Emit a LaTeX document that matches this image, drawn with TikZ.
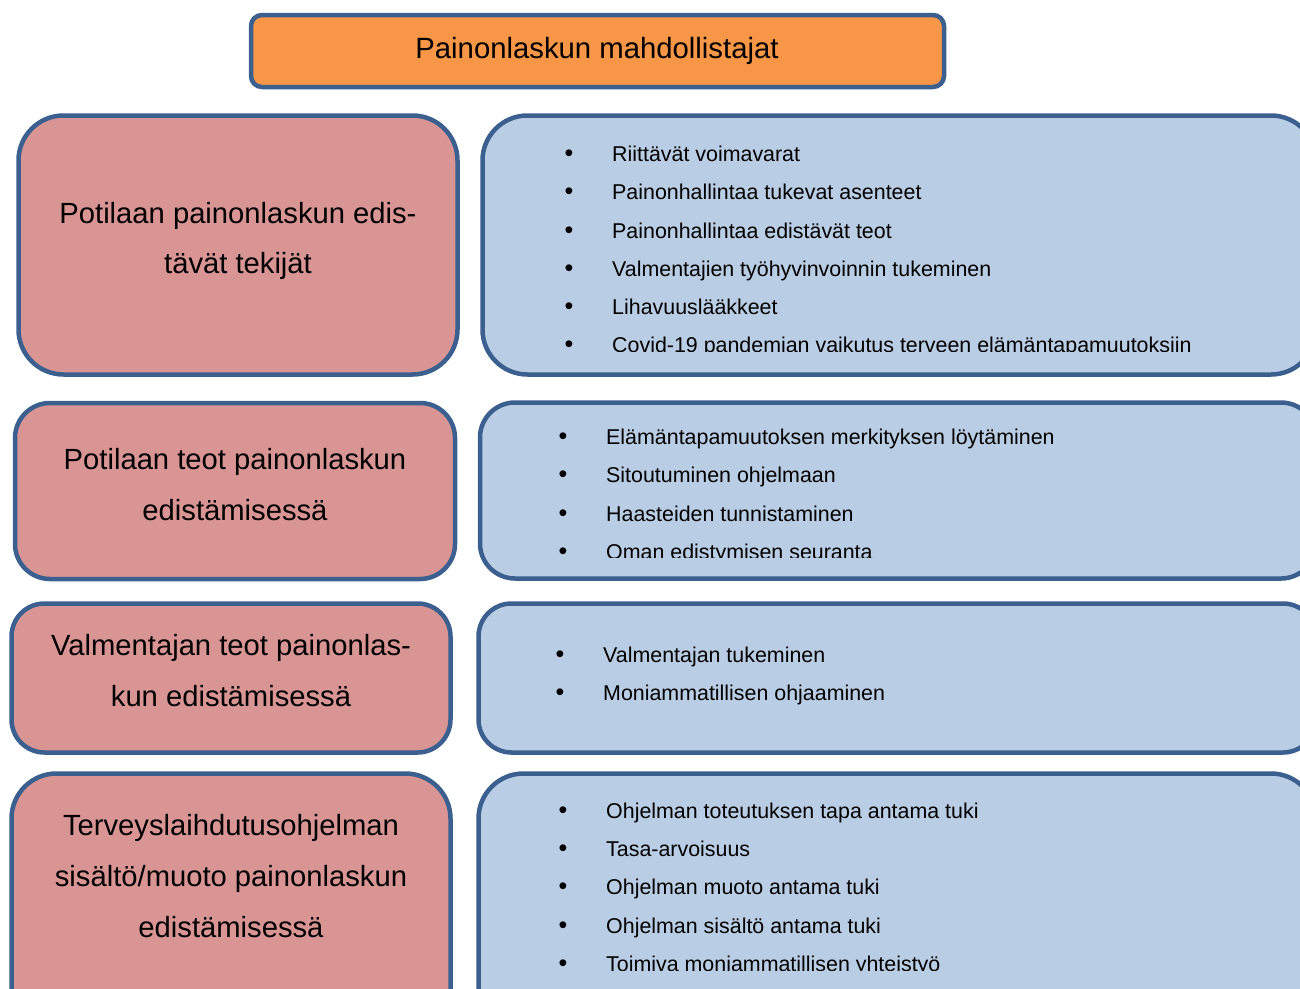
\documentclass[tikz,border=0pt]{standalone}
\usepackage{fontspec}
\setmainfont{Liberation Sans}
\definecolor{bordc}{HTML}{3B5F8E}
\definecolor{orangec}{HTML}{F79646}
\definecolor{pinkc}{HTML}{D99594}
\definecolor{bluec}{HTML}{B9CDE5}
\tikzset{
  boxline/.style={draw=bordc, line width=4.5pt},
  titlebox/.style={boxline, fill=orangec, rounded corners=11pt},
  leftbox/.style={boxline, fill=pinkc},
  rightbox/.style={boxline, fill=bluec},
  titletext/.style={anchor=base, inner sep=0pt, font=\fontsize{29.3}{32}\selectfont},
  lefttext/.style={anchor=base, inner sep=0pt, font=\fontsize{29.2}{34}\selectfont},
  bul/.style={anchor=base, inner sep=0pt, font=\fontsize{25}{26}\selectfont},
  itemtext/.style={anchor=base west, inner sep=0pt, font=\fontsize{21.4}{24}\selectfont},
}
\begin{document}
\begin{tikzpicture}[x=1pt,y=-1pt]
\useasboundingbox (0,0) rectangle (1300,988);
% title
\draw[titlebox] (251,15) rectangle (944,87);
\node[titletext] (title) at (597,58) {Painonlaskun mahdollistajat};
% row 1
\draw[leftbox, rounded corners=45pt] (18.5,115.5) rectangle (457.5,374.5);
\node[lefttext] (l1a) at (238,223) {Potilaan painonlaskun edis-};
\node[lefttext] (l1b) at (238,273.5) {tävät tekijät};
\draw[rightbox, rounded corners=45pt] (482.5,115.5) rectangle (1316,374.5);
\begin{scope}
\clip (470,100) rectangle (1300,351.5);
\node[bul] (b1a) at (569,161) {•}; \node[itemtext] (t1a) at (612,161) {Riittävät voimavarat};
\node[bul] (b1b) at (569,199) {•}; \node[itemtext] (t1b) at (612,199) {Painonhallintaa tukevat asenteet};
\node[bul] (b1c) at (569,238) {•}; \node[itemtext] (t1c) at (612,238) {Painonhallintaa edistävät teot};
\node[bul] (b1d) at (569,276) {•}; \node[itemtext] (t1d) at (612,276) {Valmentajien työhyvinvoinnin tukeminen};
\node[bul] (b1e) at (569,314) {•}; \node[itemtext] (t1e) at (612,314) {Lihavuuslääkkeet};
\node[itemtext] (t1f) at (612,352) {Covid-19 pandemian vaikutus terveen elämäntapamuutoksiin};
\end{scope}
\node[bul] (b1f) at (569,352) {•};
% row 2
\draw[leftbox, rounded corners=35pt] (15,403) rectangle (455,579);
\node[lefttext] (l2a) at (235,469) {Potilaan teot painonlaskun};
\node[lefttext] (l2b) at (235,520) {edistämisessä};
\draw[rightbox, rounded corners=35pt] (480,402.5) rectangle (1316,578.5);
\begin{scope}
\clip (470,390) rectangle (1300,557.5);
\node[bul] (b2a) at (563,444) {•}; \node[itemtext] (t2a) at (606,444) {Elämäntapamuutoksen merkityksen löytäminen};
\node[bul] (b2b) at (563,482) {•}; \node[itemtext] (t2b) at (606,482) {Sitoutuminen ohjelmaan};
\node[bul] (b2c) at (563,521) {•}; \node[itemtext] (t2c) at (606,521) {Haasteiden tunnistaminen};
\node[itemtext] (t2d) at (606,559) {Oman edistymisen seuranta};
\end{scope}
\node[bul] (b2d) at (563,559) {•};
% row 3
\draw[leftbox, rounded corners=33pt] (11.5,603.5) rectangle (450.5,752.5);
\node[lefttext] (l3a) at (231,655) {Valmentajan teot painonlas-};
\node[lefttext] (l3b) at (231,706) {kun edistämisessä};
\draw[rightbox, rounded corners=33pt] (478.5,603.5) rectangle (1316,752.5);
\node[bul] (b3a) at (560,662) {•}; \node[itemtext] (t3a) at (603,662) {Valmentajan tukeminen};
\node[bul] (b3b) at (560,700) {•}; \node[itemtext] (t3b) at (603,700) {Moniammatillisen ohjaaminen};
% row 4
\draw[leftbox, rounded corners=45pt] (11.5,773.5) rectangle (450.5,1040);
\node[lefttext] (l4a) at (231,835) {Terveyslaihdutusohjelman};
\node[lefttext] (l4b) at (231,886) {sisältö/muoto painonlaskun};
\node[lefttext] (l4c) at (231,937) {edistämisessä};
\draw[rightbox, rounded corners=45pt] (478.5,773.5) rectangle (1316,1040);
\begin{scope}
\clip (470,760) rectangle (1300,970.5);
\node[bul] (b4a) at (563,818) {•}; \node[itemtext] (t4a) at (606,818) {Ohjelman toteutuksen tapa antama tuki};
\node[bul] (b4b) at (563,856) {•}; \node[itemtext] (t4b) at (606,856) {Tasa-arvoisuus};
\node[bul] (b4c) at (563,894) {•}; \node[itemtext] (t4c) at (606,894) {Ohjelman muoto antama tuki};
\node[bul] (b4d) at (563,933) {•}; \node[itemtext] (t4d) at (606,933) {Ohjelman sisältö antama tuki};
\node[itemtext] (t4e) at (606,971) {Toimiva moniammatillisen yhteistyö};
\end{scope}
\node[bul] (b4e) at (563,971) {•};
\end{tikzpicture}
\end{document}
